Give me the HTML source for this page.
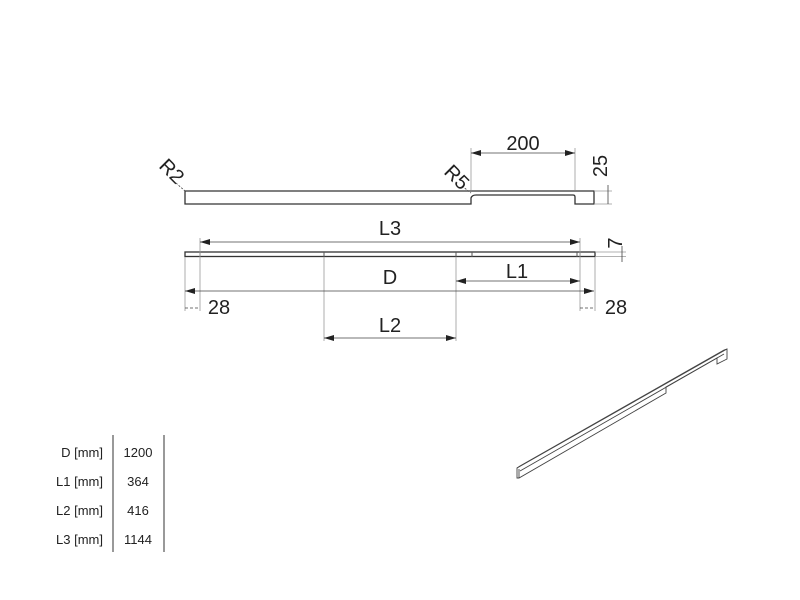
<!DOCTYPE html>
<html><head><meta charset="utf-8"><style>
body{margin:0;background:#fff}
svg{display:block}
text{font-family:"Liberation Sans","DejaVu Sans",sans-serif;fill:#222}
</style></head><body>
<svg width="800" height="600" viewBox="0 0 800 600" xmlns="http://www.w3.org/2000/svg">
<defs>
<marker id="a" viewBox="0 0 10 6" refX="10" refY="3" markerWidth="10" markerHeight="6" orient="auto-start-reverse" markerUnits="userSpaceOnUse"><path d="M0,0 L10,3 L0,6 z" fill="#222"/></marker>
</defs>
<g fill="none" stroke="#333" stroke-width="1.3">
<!-- side profile -->
<path d="M185,191 H594 V204 H575 V197 Q575,195 573,195 H476 Q472,195 471,198 V204 H185 Z"/>
<!-- plan strip -->
<rect x="185" y="252" width="410" height="4.5"/>
</g>
<g stroke="#555" stroke-width="1">
<line x1="200" y1="252" x2="200" y2="257"/><line x1="324" y1="252" x2="324" y2="257"/>
<line x1="456" y1="252" x2="456" y2="257"/><line x1="472" y1="252" x2="472" y2="257"/>
<line x1="580" y1="252" x2="580" y2="257"/><line x1="577" y1="252" x2="577" y2="257"/>
</g>
<g stroke="#999" stroke-width="0.8" fill="none">
<line x1="471" y1="148" x2="471" y2="190"/><line x1="575" y1="148" x2="575" y2="190"/>
<line x1="185" y1="257" x2="185" y2="311"/><line x1="200" y1="238" x2="200" y2="311"/>
<line x1="324" y1="257" x2="324" y2="341"/><line x1="456" y1="257" x2="456" y2="341"/>
<line x1="580" y1="238" x2="580" y2="311"/><line x1="595" y1="257" x2="595" y2="311"/>
<line x1="594" y1="191" x2="612" y2="191"/><line x1="594" y1="204" x2="612" y2="204"/>
<line x1="595" y1="252" x2="626" y2="252"/><line x1="595" y1="256.5" x2="626" y2="256.5"/>
</g>
<g stroke="#444" stroke-width="0.8" fill="none">
<line x1="471" y1="153" x2="575" y2="153" marker-start="url(#a)" marker-end="url(#a)"/>
<line x1="200" y1="242" x2="580" y2="242" marker-start="url(#a)" marker-end="url(#a)"/>
<line x1="185" y1="291" x2="594" y2="291" marker-start="url(#a)" marker-end="url(#a)"/>
<line x1="456" y1="281" x2="580" y2="281" marker-start="url(#a)" marker-end="url(#a)"/>
<line x1="324" y1="338" x2="456" y2="338" marker-start="url(#a)" marker-end="url(#a)"/>
<line x1="185" y1="308" x2="200" y2="308" stroke-dasharray="3,2"/>
<line x1="580" y1="308" x2="595" y2="308" stroke-dasharray="3,2"/>
<line x1="608" y1="185" x2="608" y2="204"/>
<line x1="622" y1="246" x2="622" y2="262"/>
<line x1="176" y1="183" x2="185" y2="191" stroke-dasharray="2,1.5"/>
<line x1="462" y1="186" x2="471" y2="193" stroke-dasharray="2,1.5"/>
</g>
<g font-size="20">
<text x="523" y="150" text-anchor="middle">200</text>
<text x="390" y="235" text-anchor="middle">L3</text>
<text x="390" y="284" text-anchor="middle">D</text>
<text x="517" y="278" text-anchor="middle">L1</text>
<text x="390" y="332" text-anchor="middle">L2</text>
<text x="219" y="314" text-anchor="middle">28</text>
<text x="616" y="314" text-anchor="middle">28</text>
<text transform="translate(172,171) rotate(45)" text-anchor="middle" dy="7">R2</text>
<text transform="translate(457,177) rotate(45)" text-anchor="middle" dy="7">R5</text>
<text transform="translate(600,166) rotate(-90)" text-anchor="middle" dy="7">25</text>
<text transform="translate(615,243) rotate(-90)" text-anchor="middle" dy="7">7</text>
</g>
<!-- iso view -->
<g fill="none" stroke="#444" stroke-width="0.9">
<path d="M517,468 L727,349 L727,359 L717,364 L717,358 L666,387 L666,393 L519,478 L517,478 Z"/>
<path d="M517,468 L520,466 L724,350 L727,349"/>
<path d="M520,471 L724,354"/>
<line x1="519" y1="469" x2="519" y2="478"/>
</g>
<!-- table -->
<g font-size="13" fill="#222">
<text x="103" y="457" text-anchor="end">D [mm]</text>
<text x="103" y="486" text-anchor="end">L1 [mm]</text>
<text x="103" y="515" text-anchor="end">L2 [mm]</text>
<text x="103" y="544" text-anchor="end">L3 [mm]</text>
<text x="138" y="457" text-anchor="middle">1200</text>
<text x="138" y="486" text-anchor="middle">364</text>
<text x="138" y="515" text-anchor="middle">416</text>
<text x="138" y="544" text-anchor="middle">1144</text>
</g>
<g stroke="#333" stroke-width="1">
<line x1="113" y1="435" x2="113" y2="552"/>
<line x1="164" y1="435" x2="164" y2="552"/>
</g>
</svg>
</body></html>
